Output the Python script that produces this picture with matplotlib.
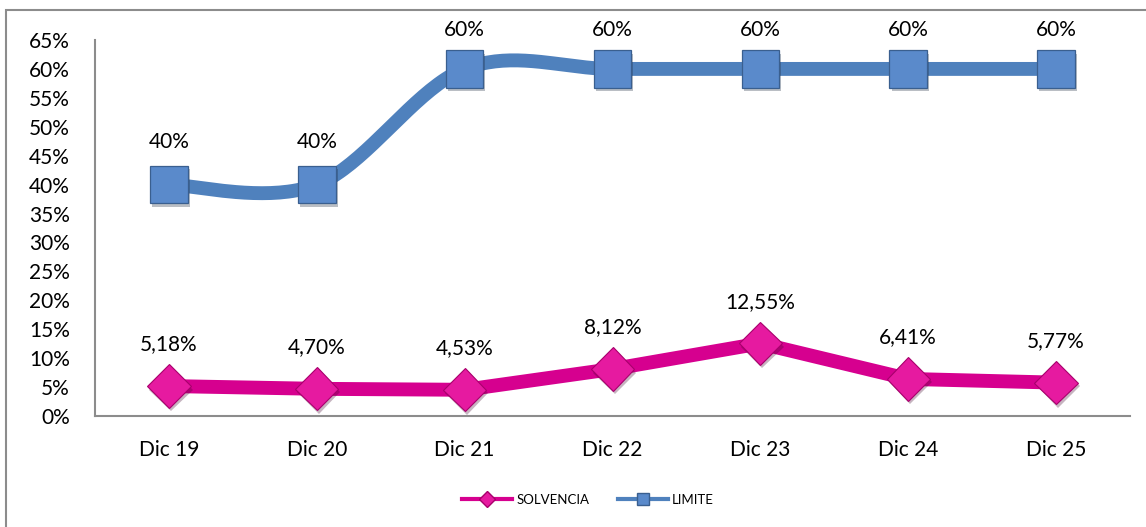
import numpy as np
import matplotlib
matplotlib.use("Agg")
import matplotlib.pyplot as plt
from matplotlib.patches import Rectangle
from matplotlib.lines import Line2D
import matplotlib.patheffects as pe

plt.rcParams['font.family'] = ['Lato', 'DejaVu Sans']

categories = ["Dic 19", "Dic 20", "Dic 21", "Dic 22", "Dic 23", "Dic 24", "Dic 25"]
solvencia = [5.18, 4.70, 4.53, 8.12, 12.55, 6.41, 5.77]
limite = [40, 40, 60, 60, 60, 60, 60]
solv_labels = ["5,18%", "4,70%", "4,53%", "8,12%", "12,55%", "6,41%", "5,77%"]
lim_labels = ["40%", "40%", "60%", "60%", "60%", "60%", "60%"]
yticks = list(range(0, 70, 5))

PINK = "#D6008F"
PINK_M = "#E61AA0"
BLUE = "#4F81BD"
BLUE_M = "#5A8ACB"


def smooth(xs, ys, n=40):
    xs = np.asarray(xs, float)
    ys = np.asarray(ys, float)
    P = np.column_stack([xs, ys])
    out = []
    for i in range(len(P) - 1):
        p0 = P[i - 1] if i > 0 else P[i]
        p1 = P[i]
        p2 = P[i + 1]
        p3 = P[i + 2] if i + 2 < len(P) else P[i + 1]
        c1 = p1 + (p2 - p0) / 6.0
        c2 = p2 - (p3 - p1) / 6.0
        t = np.linspace(0, 1, n)[:, None]
        seg = ((1 - t) ** 3) * p1 + 3 * ((1 - t) ** 2) * t * c1 + 3 * (1 - t) * t ** 2 * c2 + t ** 3 * p2
        out.append(seg if i == 0 else seg[1:])
    S = np.vstack(out)
    return S[:, 0], S[:, 1]


fig = plt.figure(figsize=(11.46, 5.27), dpi=100)
W, H = 1146, 527
ax = fig.add_axes([95 / W, 1 - 416 / H, (1130 - 95) / W, (416 - 40) / H])

x = np.arange(len(categories))

ax.plot(x, solvencia, color=PINK, lw=10, solid_capstyle='butt', solid_joinstyle='round', zorder=3)
lx, ly = smooth(x, limite)
ax.plot(lx, ly, color=BLUE, lw=10, solid_capstyle='butt', zorder=3)

ax.plot(x, solvencia, linestyle='none', marker='D', markersize=22, markerfacecolor=PINK_M,
        markeredgecolor='#A8006C', markeredgewidth=0.8, zorder=4,
        path_effects=[pe.SimplePatchShadow(offset=(1.5, -2.5), alpha=0.3), pe.Normal()])
ax.plot(x, limite, linestyle='none', marker='s', markersize=27, markerfacecolor=BLUE_M,
        markeredgecolor='#3A5F8F', markeredgewidth=0.9, zorder=4,
        path_effects=[pe.SimplePatchShadow(offset=(1.5, -2.5), alpha=0.3), pe.Normal()])

ax.set_xlim(-0.5, len(categories) - 0.5)
ax.set_ylim(0, 65)

for xi, v, t in zip(x, solvencia, solv_labels):
    ax.annotate(t, (xi, v), xytext=(0, 30), textcoords='offset points', ha='center', va='center', fontsize=15)

# labels of LIMITE: kept inside the chart area near the top (as Excel does)
top_px_limit = H - 30  # label centre may not go above ~30 px from the top
for xi, v, t in zip(x, limite, lim_labels):
    ypix = ax.transData.transform((xi, v))[1]
    off_px = min(31 * 100 / 72, top_px_limit - ypix)
    ax.annotate(t, (xi, v), xytext=(0, off_px * 72 / 100), textcoords='offset points',
                ha='center', va='center', fontsize=15)

ax.set_yticks(yticks)
ax.set_yticklabels([f"{v}%" for v in yticks], fontsize=15)
ax.set_xticks(x)
ax.set_xticklabels(categories, fontsize=15)
ax.tick_params(axis='y', length=0, pad=18)
ax.tick_params(axis='x', length=0, pad=17)
for s in ['top', 'right']:
    ax.spines[s].set_visible(False)
for s in ['left', 'bottom']:
    ax.spines[s].set_color('#8C8C8C')
    ax.spines[s].set_linewidth(1.5)

handles = [
    Line2D([], [], color=PINK, lw=3, marker='D', markersize=8, markerfacecolor=PINK_M, markeredgecolor='#A8006C'),
    Line2D([], [], color=BLUE, lw=3, marker='s', markersize=9, markerfacecolor=BLUE_M, markeredgecolor='#3A5F8F'),
]
fig.legend(handles, ["SOLVENCIA", "LIMITE"], loc='center', bbox_to_anchor=(588 / W, 1 - 500 / H),
           ncol=2, frameon=False, fontsize=9.5, handlelength=3.8, columnspacing=2.2, handletextpad=0.3)

fig.patches.append(Rectangle((6 / W, -0.05), 1.2, 1 - 10 / H + 0.05, transform=fig.transFigure,
                             fill=False, edgecolor='#8C8C8C', lw=1.5))

fig.savefig("out.png", dpi=100)
